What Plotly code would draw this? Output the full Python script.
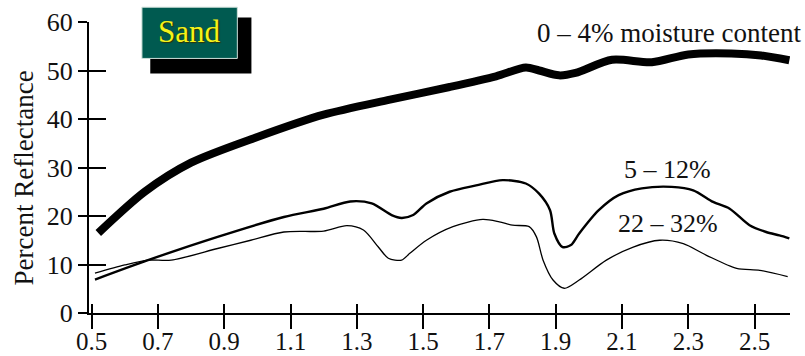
import plotly.graph_objects as go

# Wavelength (micrometres) and percent reflectance for sand at three moisture levels
wl_dry = [0.52, 0.66, 0.80, 1.00, 1.20, 1.40, 1.58, 1.72, 1.81, 1.85, 1.91, 1.96,
          2.07, 2.19, 2.30, 2.43, 2.52, 2.605]
refl_dry = [16.5, 25.0, 31.0, 36.3, 40.9, 44.0, 46.6, 48.8, 50.6, 50.0, 49.0, 49.5,
            52.2, 51.7, 53.3, 53.5, 53.1, 52.1]

wl_mid = [0.51, 0.67, 0.88, 1.08, 1.20, 1.28, 1.345, 1.405, 1.435, 1.47, 1.51, 1.58,
          1.66, 1.74, 1.81, 1.85, 1.883, 1.896, 1.921, 1.946, 1.971, 2.03, 2.09, 2.16,
          2.25, 2.315, 2.375, 2.425, 2.485, 2.535, 2.575, 2.605]
refl_mid = [6.9, 10.9, 15.7, 19.8, 21.5, 23.0, 22.6, 20.2, 19.6, 20.2, 22.6, 25.0,
            26.3, 27.4, 26.7, 24.6, 21.2, 16.4, 13.6, 14.0, 16.4, 21.2, 24.3, 25.7,
            26.0, 25.3, 22.9, 21.5, 18.1, 16.7, 16.0, 15.4]

wl_wet = [0.51, 0.60, 0.67, 0.74, 0.88, 0.98, 1.08, 1.20, 1.27, 1.32, 1.365, 1.395,
          1.435, 1.46, 1.51, 1.59, 1.68, 1.73, 1.77, 1.82, 1.842, 1.862, 1.892, 1.926,
          1.971, 2.053, 2.134, 2.214, 2.285, 2.355, 2.446, 2.516, 2.60]
refl_wet = [8.2, 9.9, 10.9, 10.9, 13.3, 15.0, 16.7, 16.9, 18.0, 17.1, 13.6, 11.3,
            10.9, 12.3, 15.0, 17.8, 19.3, 18.8, 18.1, 17.8, 15.7, 10.9, 6.8, 5.1,
            6.8, 10.9, 13.6, 15.0, 14.3, 11.9, 9.2, 8.8, 7.5]

x_ticks = [0.5, 0.7, 0.9, 1.1, 1.3, 1.5, 1.7, 1.9, 2.1, 2.3, 2.5]
x_tick_text = ["0.5", "0.7", "0.9", "1.1", "1.3", "1.5", "1.7", "1.9", "2.1", "2.3", "2.5"]
y_ticks = [0, 10, 20, 30, 40, 50, 60]

x_range = [0.492, 2.607]
y_range = [0, 60]

SERIF = "Liberation Serif"
INK = "#111111"

fig = go.Figure()
fig.add_trace(go.Scatter(x=wl_dry, y=refl_dry, mode="lines",
                         line=dict(color="black", width=8, shape="spline", smoothing=0.8),
                         showlegend=False))
fig.add_trace(go.Scatter(x=wl_mid, y=refl_mid, mode="lines",
                         line=dict(color="black", width=2.4, shape="spline", smoothing=0.8),
                         showlegend=False))
fig.add_trace(go.Scatter(x=wl_wet, y=refl_wet, mode="lines",
                         line=dict(color="black", width=1.3, shape="spline", smoothing=0.8),
                         showlegend=False))

# invisible trace on the overlay axes so they get drawn
fig.add_trace(go.Scatter(x=[None], y=[None], xaxis="x2", yaxis="y2",
                         showlegend=False, hoverinfo="skip"))

fig.update_layout(
    width=805, height=356,
    margin=dict(l=89, r=15, t=21.5, b=43),
    paper_bgcolor="white", plot_bgcolor="white",
    font=dict(family=SERIF, color=INK),
    # x: labelled axis carries the short upward ticks, the overlay the longer downward ones
    xaxis=dict(range=x_range, tickvals=x_ticks, ticktext=x_tick_text, automargin=False,
               ticks="inside", ticklen=9, tickwidth=2, tickcolor="black",
               ticklabelstandoff=5,
               showline=True, linewidth=2, linecolor="black",
               showgrid=False, zeroline=False,
               tickfont=dict(family=SERIF, size=25, color=INK)),
    yaxis=dict(range=y_range, tickvals=y_ticks, automargin=False,
               ticks="outside", ticklen=9, tickwidth=2, tickcolor="black",
               showline=True, linewidth=2, linecolor="black",
               showgrid=False, zeroline=False,
               tickfont=dict(family=SERIF, size=26, color=INK)),
    xaxis2=dict(range=x_range, overlaying="x", side="bottom", anchor="y", automargin=False,
                tickvals=x_ticks, showticklabels=False,
                ticks="outside", ticklen=15, tickwidth=2, tickcolor="black",
                showline=False, showgrid=False, zeroline=False),
    yaxis2=dict(range=y_range, overlaying="y", side="left", anchor="x", automargin=False,
                tickvals=y_ticks, showticklabels=False,
                ticks="inside", ticklen=17, tickwidth=2, tickcolor="black",
                showline=False, showgrid=False, zeroline=False),
)

# "Sand" label box with drop shadow
fig.add_shape(type="rect", xref="paper", yref="paper",
              x0=0.0874, x1=0.2317, y0=0.8233, y1=1.0154,
              fillcolor="black", line=dict(width=0), layer="above")
fig.add_shape(type="rect", xref="paper", yref="paper",
              x0=0.0755, x1=0.2116, y0=0.8748, y1=1.0508,
              fillcolor="#005A50", line=dict(color="#cfe0da", width=1), layer="above")
fig.add_annotation(xref="paper", yref="paper", x=0.1436, y=0.969,
                   text="Sand", showarrow=False, xanchor="center", yanchor="middle",
                   font=dict(family=SERIF, size=31, color="#f4f21a",
                             shadow="1px 1px 1px #333300"))

# curve labels
fig.add_annotation(xref="paper", yref="paper", x=1.0186, y=0.9605,
                   text="0 \u2013 4% moisture content", showarrow=False,
                   xanchor="right", yanchor="middle",
                   font=dict(family=SERIF, size=27, color=INK))
fig.add_annotation(x=2.237, y=29.6, text="5 \u2013 12%", showarrow=False,
                   xanchor="center", yanchor="middle",
                   font=dict(family=SERIF, size=26, color=INK))
fig.add_annotation(x=2.239, y=18.5, text="22 \u2013 32%", showarrow=False,
                   xanchor="center", yanchor="middle",
                   font=dict(family=SERIF, size=26, color=INK))

# y-axis title
fig.add_annotation(xref="paper", yref="paper", x=-0.0931, y=0.4648,
                   text="Percent Reflectance", textangle=-90, showarrow=False,
                   xanchor="center", yanchor="middle",
                   font=dict(family=SERIF, size=27, color=INK))

fig.write_html("out.html")
